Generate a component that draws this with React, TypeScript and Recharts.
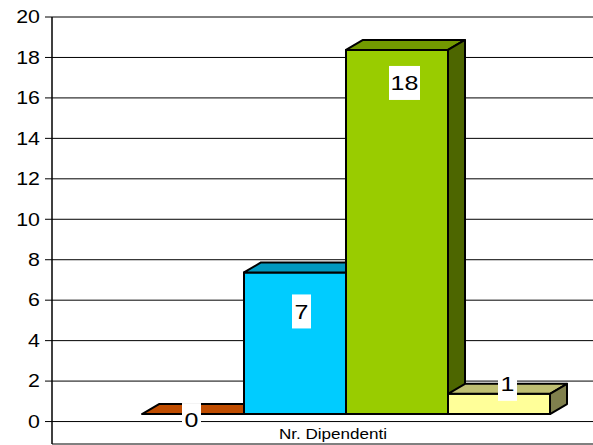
import React from 'react';
import { BarChart, Bar, XAxis, YAxis, CartesianGrid, LabelList } from 'recharts';

// ---- data ----
const categories = ['Nr. Dipendenti'];
const series1 = [0];
const series2 = [7];
const series3 = [18];
const series4 = [1];
const yTicks = [0, 2, 4, 6, 8, 10, 12, 14, 16, 18, 20];

const data = categories.map((name, i) => ({
  name,
  s1: series1[i],
  s2: series2[i],
  s3: series3[i],
  s4: series4[i],
}));

// ---- styles ----
const STYLES = [
  { key: 's1', front: '#E05A00', top: '#BF4C00', side: '#8F3900', labelDy: 6, labelDx: -10 },
  { key: 's2', front: '#00CCFF', top: '#0098BF', side: '#006680', labelDy: 39, labelDx: -2 },
  { key: 's3', front: '#99CC00', top: '#739900', side: '#4D6600', labelDy: 33, labelDx: -1 },
  { key: 's4', front: '#FFFF99', top: '#BFBF73', side: '#80804D', labelDy: -10, labelDx: 0 },
];

const DEPTH_X = 17;
const DEPTH_Y = 10;
const FLOOR_DY = -7.5;
const FONT = '"Liberation Sans", Arial, Helvetica, sans-serif';
const STRETCH = 1.22;

function make3DShape(st: any) {
  return (props: any) => {
    const { x, y, width, height } = props;
    if (x == null || y == null) return null;
    const fx = x;
    const fy = y + FLOOR_DY;
    const w = width;
    const h = Math.max(0, height);
    const topPts = `${fx},${fy} ${fx + DEPTH_X},${fy - DEPTH_Y} ${fx + w + DEPTH_X},${fy - DEPTH_Y} ${fx + w},${fy}`;
    const sidePts = `${fx + w},${fy} ${fx + w + DEPTH_X},${fy - DEPTH_Y} ${fx + w + DEPTH_X},${fy + h - DEPTH_Y} ${fx + w},${fy + h}`;
    return (
      <g>
        {h > 0 && (
          <rect x={fx} y={fy} width={w} height={h} fill={st.front} stroke="#000" strokeWidth={2} strokeLinejoin="round" />
        )}
        <polygon points={topPts} fill={st.top} stroke="#000" strokeWidth={2} strokeLinejoin="round" />
        <polygon points={sidePts} fill={st.side} stroke="#000" strokeWidth={2} strokeLinejoin="round" />
      </g>
    );
  };
}

function makeLabel(st: any) {
  return (props: any) => {
    const vb = props.viewBox || props;
    const x = vb.x ?? props.x;
    const y = vb.y ?? props.y;
    const width = vb.width ?? props.width;
    const value = props.value;
    if (x == null || y == null) return null;
    const text = String(value);
    const cx = x + width / 2 + DEPTH_X / 2 + st.labelDx;
    const cy = y + FLOOR_DY + st.labelDy;
    const boxW = 12 * text.length + 7;
    const boxH = 34;
    return (
      <g>
        <rect x={cx - boxW / 2} y={cy - boxH / 2} width={boxW} height={boxH} fill="#fff" />
        <g transform={`translate(${cx},${cy}) scale(${STRETCH},1)`}>
          <text x={0} y={0} textAnchor="middle" dominantBaseline="central" fontSize={20.5} fontFamily={FONT} fill="#000">
            {text}
          </text>
        </g>
      </g>
    );
  };
}

const YTick = (props: any) => {
  const { x, y, payload } = props;
  return (
    <g transform={`translate(${x},${y}) scale(${STRETCH},1)`}>
      <text x={0} y={0} textAnchor="end" dominantBaseline="central" fontSize={17.5} fontFamily={FONT} fill="#000">
        {payload.value}
      </text>
    </g>
  );
};

const XTick = (props: any) => {
  const { x, y, payload } = props;
  return (
    <g transform={`translate(${x - 13},${y}) scale(${STRETCH},1)`}>
      <text x={0} y={-18} textAnchor="middle" dominantBaseline="central" fontSize={14} fontFamily={FONT} fill="#000">
        {payload.value}
      </text>
    </g>
  );
};

export default function App() {
  return (
    <div style={{ position: 'absolute', left: 0, top: 0, width: 593, height: 445, background: '#fff' }}>
      <BarChart
        width={593}
        height={445}
        data={data}
        margin={{ top: 17, right: 0, bottom: 0, left: 0 }}
        barGap={0}
        barSize={102}
      >
        <CartesianGrid horizontal={true} vertical={false} stroke="#000" />
        <XAxis
          dataKey="name"
          height={1}
          padding={{ left: 47, right: 0 }}
          axisLine={false}
          tickLine={false}
          tick={<XTick />}
          interval={0}
        />
        <YAxis
          type="number"
          width={52}
          domain={[-1.11, 20]}
          ticks={yTicks}
          allowDataOverflow
          interval={0}
          axisLine={{ stroke: '#000', strokeWidth: 1.5 }}
          tickLine={{ stroke: '#000' }}
          tickSize={7}
          tickMargin={5}
          tick={<YTick />}
        />
        {STYLES.map((st) => (
          <Bar key={st.key} dataKey={st.key} isAnimationActive={false} shape={make3DShape(st)}>
            <LabelList dataKey={st.key} content={makeLabel(st)} />
          </Bar>
        ))}
      </BarChart>
    </div>
  );
}
